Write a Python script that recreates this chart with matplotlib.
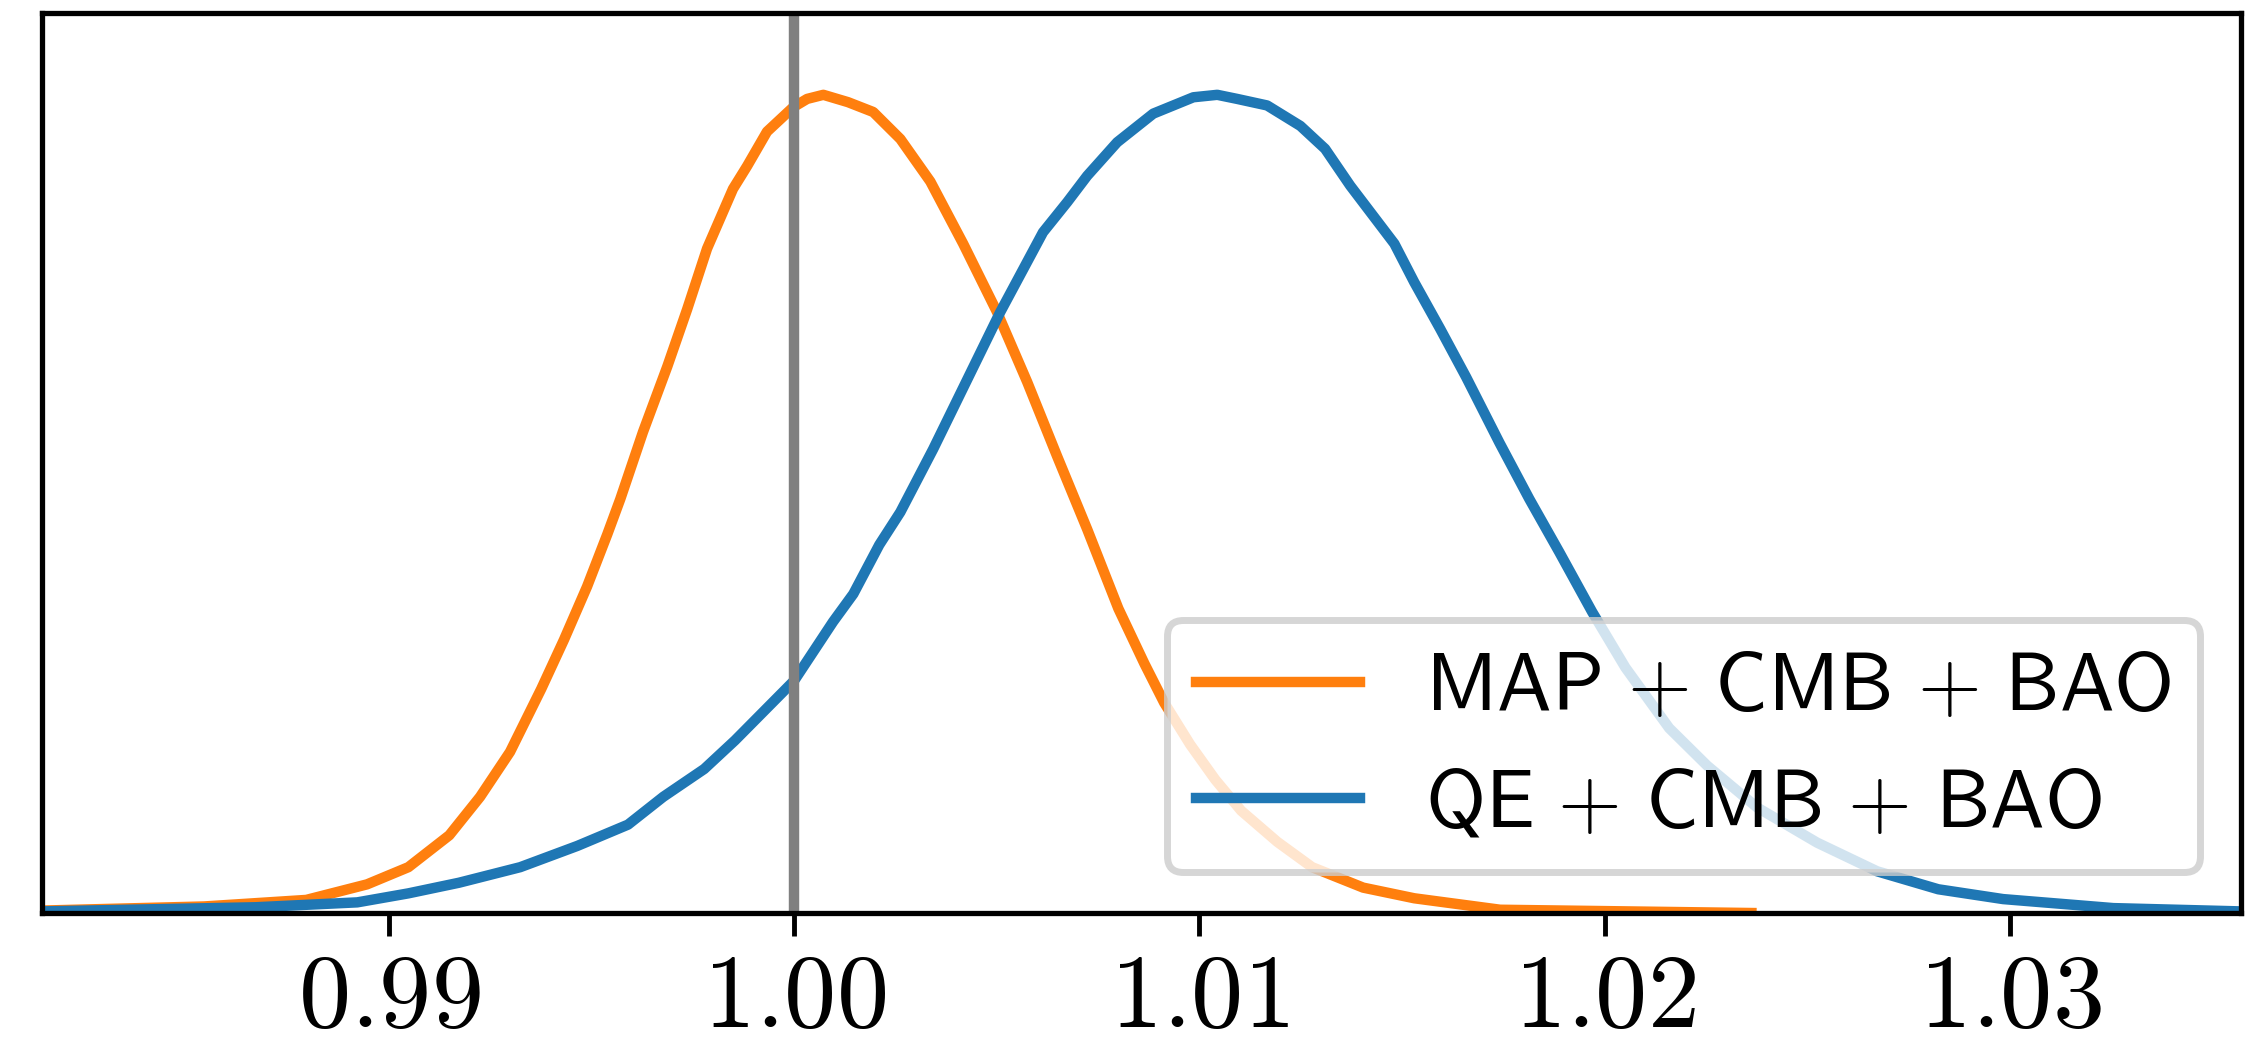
import numpy as np
import matplotlib
matplotlib.use("Agg")
from matplotlib import pyplot as plt

plt.rcParams['mathtext.fontset'] = 'cm'

# normalised 1D posteriors (peak = 1)
map_x = [0.98147, 0.98544, 0.98796, 0.98946, 0.99048, 0.99149, 0.99225, 0.99299,
         0.99376, 0.99432, 0.99489, 0.99539, 0.99571, 0.99627, 0.99687, 0.99736,
         0.99785, 0.99849, 0.99884, 0.99933, 0.99998, 1.00032, 1.00072, 1.00133,
         1.00195, 1.00262, 1.00336, 1.00417, 1.00501, 1.00575, 1.00649, 1.00723,
         1.00800, 1.00864, 1.00913, 1.00977, 1.01039, 1.01103, 1.01192, 1.01278,
         1.01404, 1.01530, 1.01742, 1.02362]
map_p = [0.003, 0.008, 0.016, 0.035, 0.056, 0.095, 0.142, 0.197,
         0.274, 0.334, 0.399, 0.463, 0.506, 0.588, 0.668, 0.738,
         0.812, 0.885, 0.913, 0.955, 0.985, 0.995, 1.000, 0.991,
         0.979, 0.946, 0.894, 0.818, 0.734, 0.649, 0.558, 0.469,
         0.372, 0.305, 0.257, 0.206, 0.163, 0.125, 0.087, 0.056,
         0.031, 0.018, 0.004, 0.0]

qe_x = [0.98147, 0.98670, 0.98922, 0.99048, 0.99173, 0.99324, 0.99465, 0.99590,
        0.99677, 0.99778, 0.99854, 0.99928, 1.00000, 1.00044, 1.00096, 1.00146,
        1.00210, 1.00262, 1.00343, 1.00427, 1.00508, 1.00614, 1.00674, 1.00723,
        1.00797, 1.00886, 1.00985, 1.01044, 1.01093, 1.01167, 1.01249, 1.01310,
        1.01372, 1.01481, 1.01530, 1.01594, 1.01658, 1.01740, 1.01814, 1.01888,
        1.01969, 1.02051, 1.02159, 1.02253, 1.02376, 1.02524, 1.02672, 1.02823,
        1.02983, 1.03255, 1.03566]
qe_p = [0.002, 0.007, 0.013, 0.024, 0.037, 0.056, 0.082, 0.108,
        0.142, 0.176, 0.211, 0.248, 0.284, 0.317, 0.356, 0.390,
        0.450, 0.490, 0.567, 0.652, 0.734, 0.832, 0.869, 0.901,
        0.942, 0.977, 0.997, 1.000, 0.995, 0.987, 0.962, 0.934,
        0.889, 0.818, 0.771, 0.714, 0.655, 0.575, 0.506, 0.441,
        0.368, 0.300, 0.226, 0.180, 0.129, 0.086, 0.051, 0.029,
        0.017, 0.006, 0.002]

sp_ = r'\hspace{0.13}'
labels = [r'$\mathsf{MAP}' + sp_ + '+' + sp_ + r'\mathsf{CMB}' + sp_ + '+' + sp_ + r'\mathsf{BAO}$',
          r'$\mathsf{QE}' + sp_ + '+' + sp_ + r'\mathsf{CMB}' + sp_ + '+' + sp_ + r'\mathsf{BAO}$']
ticks = [0.99, 1.00, 1.01, 1.02, 1.03]
fiducial = 1.0

fig = plt.figure(figsize=(22.6, 10.49), dpi=100)
ax = fig.add_axes([0.01858, 0.12965, 0.97301, 0.85796])

ax.plot(map_x, map_p, color='#ff7f0e', lw=7.5, label=labels[0])
ax.plot(qe_x, qe_p, color='#1f77b4', lw=7.5, label=labels[1])
ax.axvline(fiducial, color='gray', lw=7.5)

ax.set_xlim(0.98144, 1.0357)
ax.set_ylim(0, 1.1)
ax.set_yticks([])
ax.set_xticks(ticks, labels=[f'${t:.2f}$' for t in ticks])
ax.tick_params(axis='x', length=16.5, width=3.5, pad=9, labelsize=75)

for sp in ax.spines.values():
    sp.set_linewidth(3.8)

leg = ax.legend(loc='lower right', fontsize=59, labelspacing=0.45, borderpad=0.35)
leg.get_frame().set_linewidth(5)

plt.savefig('out.png', dpi=100)
